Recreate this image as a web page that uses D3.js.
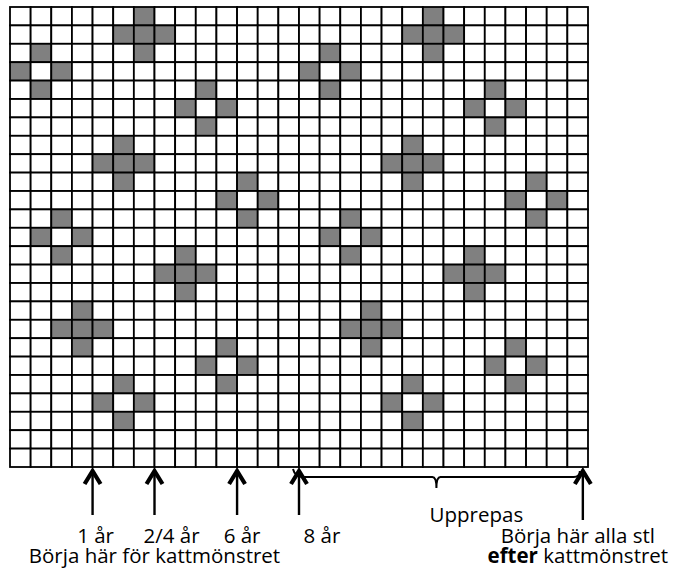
<!DOCTYPE html>
<html>
<head>
<meta charset="utf-8">
<script src="https://cdn.jsdelivr.net/npm/d3@7"></script>
<style>
  body { margin: 0; background: #fff; }
  text { font-family: "Open Sans", "Noto Sans", sans-serif; fill: #000; }
</style>
</head>
<body>
<div id="chart"></div>
<script>
// Rutnätet: 25 varv x 28 maskor
const rader = d3.range(25);
const kolumner = d3.range(28);

// Mönstrets motiv (rad, kolumn för mitten)
const fyllda = [[1, 6], [8, 5], [14, 8], [17, 3], [1, 20], [8, 19], [14, 22], [17, 17]];
const ringar = [[3, 1], [5, 9], [10, 11], [12, 2], [19, 10], [21, 5],
                [3, 15], [5, 23], [10, 25], [12, 16], [19, 24], [21, 19]];

// Pilar under rutnätet (kolumnlinje) och deras etiketter
const pilKolumner = [4, 7, 11, 14];
const pilEtiketter = ["1 år", "2/4 år", "6 år", "8 år"];
const slutPil = 27.75;
const upprepas = "Upprepas";

const width = 688, height = 569;
const margin = { top: 7, left: 10, right: 100, bottom: 102 };
const fs = 20.5;

const svg = d3.select('#chart')
    .append('svg')
    .attr('width', width)
    .attr('height', height);

const x = d3.scaleLinear().domain([0, kolumner.length]).range([margin.left, width - margin.right]);
const y = d3.scaleLinear().domain([0, rader.length]).range([margin.top, height - margin.bottom]);

// Rutor som är gråa
const grann = [[-1, 0], [1, 0], [0, -1], [0, 1]];
const gra = new Set();
fyllda.forEach(([r, c]) => { gra.add(r + ',' + c); grann.forEach(([dr, dc]) => gra.add((r + dr) + ',' + (c + dc))); });
ringar.forEach(([r, c]) => grann.forEach(([dr, dc]) => gra.add((r + dr) + ',' + (c + dc))));

const celler = rader.flatMap(r => kolumner.map(c => ({ r, c, fylld: gra.has(r + ',' + c) })));

svg.append('g')
    .selectAll('rect')
    .data(celler)
    .join('rect')
    .attr('x', d => x(d.c))
    .attr('y', d => y(d.r))
    .attr('width', x(1) - x(0))
    .attr('height', y(1) - y(0))
    .attr('fill', d => d.fylld ? '#808080' : '#fff')
    .attr('stroke', '#000')
    .attr('stroke-width', 1.8);

// Pilar
const topp = y(rader.length) + 1;
const pilar = svg.append('g').attr('stroke', '#000').attr('fill', 'none');
const allaPilar = pilKolumner.map(c => ({ c, slut: topp + 47 })).concat([{ c: slutPil, slut: topp + 52 }]);

pilar.selectAll('line')
    .data(allaPilar)
    .join('line')
    .attr('x1', d => x(d.c)).attr('x2', d => x(d.c))
    .attr('y1', topp + 3).attr('y2', d => d.slut)
    .attr('stroke-width', 2.4);

pilar.selectAll('path.huvud')
    .data(allaPilar)
    .join('path')
    .attr('class', 'huvud')
    .attr('d', d => `M${x(d.c) - 8},${topp + 16} L${x(d.c)},${topp + 3} L${x(d.c) + 8},${topp + 16}`)
    .attr('stroke-width', 4.2)
    .attr('stroke-linejoin', 'miter');

// Klammer för upprepningen
const kx0 = x(pilKolumner[3]) - 6, kx1 = x(slutPil) - 3, km = (kx0 + kx1) / 2;
const ky = topp + 9;
pilar.append('path')
    .attr('d', `M${kx0},${ky - 8} Q${kx0 + 2},${ky} ${kx0 + 10},${ky} L${km - 4},${ky} Q${km},${ky} ${km},${ky + 11} Q${km},${ky} ${km + 4},${ky} L${kx1 - 6},${ky} Q${kx1},${ky} ${kx1},${ky - 6}`)
    .attr('stroke-width', 2);

// Texter
const offset = [3, 17, 5, 23];
svg.append('g')
    .selectAll('text')
    .data(pilEtiketter)
    .join('text')
    .attr('x', (d, i) => x(pilKolumner[i]) + offset[i])
    .attr('y', topp + 75)
    .attr('text-anchor', 'middle')
    .attr('font-size', fs)
    .text(d => d);

svg.append('text')
    .attr('x', x(pilKolumner[1]))
    .attr('y', topp + 95)
    .attr('text-anchor', 'middle')
    .attr('font-size', fs)
    .text('Börja här för kattmönstret');

svg.append('text')
    .attr('x', km + 40)
    .attr('y', topp + 54)
    .attr('text-anchor', 'middle')
    .attr('font-size', fs)
    .text(upprepas);

svg.append('text')
    .attr('x', x(slutPil) - 5)
    .attr('y', topp + 75)
    .attr('text-anchor', 'middle')
    .attr('font-size', fs)
    .text('Börja här alla stl');

const efter = svg.append('text')
    .attr('x', x(slutPil) - 5)
    .attr('y', topp + 95)
    .attr('text-anchor', 'middle')
    .attr('font-size', fs);
efter.append('tspan').attr('font-weight', 'bold').text('efter');
efter.append('tspan').text(' kattmönstret');
</script>
</body>
</html>
